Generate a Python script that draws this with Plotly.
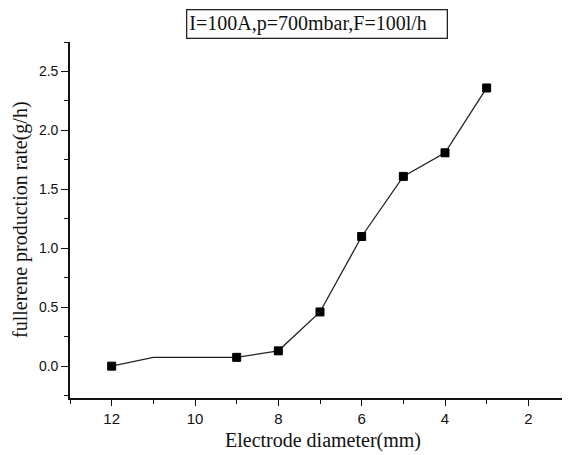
import plotly.graph_objects as go

diameter_mm = [12, 11, 9, 8, 7, 6, 5, 4, 3]
production_rate = [0.0, 0.075, 0.075, 0.13, 0.46, 1.10, 1.61, 1.81, 2.36]
has_marker = [True, False, True, True, True, True, True, True, True]

x_ticks = [12, 10, 8, 6, 4, 2]
y_ticks = [0.0, 0.5, 1.0, 1.5, 2.0, 2.5]
title_text = "I=100A,p=700mbar,F=100l/h"
x_title = "Electrode diameter(mm)"
y_title = "fullerene production rate(g/h)"

fig = go.Figure()
fig.add_trace(go.Scatter(
    x=diameter_mm, y=production_rate, mode="lines+markers",
    line=dict(color="#222222", width=1.3),
    marker=dict(symbol="square", color="black", opacity=1,
                line=dict(width=1, color="black"),
                size=[8 if m else 0 for m in has_marker]),
    showlegend=False,
))

serif = "Liberation Serif, Times New Roman, serif"
sans = "Liberation Sans, Arial, sans-serif"

# page body has an 8px margin; figure is sized so the plot area lands where the reference has it
fig.update_layout(
    width=562, height=447,
    margin=dict(l=62, r=0, t=34, b=57),
    paper_bgcolor="white", plot_bgcolor="white",
    annotations=[
        dict(text=title_text, xref="paper", yref="paper",
             x=0.494, y=1.05, xanchor="center", yanchor="middle",
             showarrow=False, font=dict(family=serif, size=20, color="#111"),
             bordercolor="#222", borderwidth=1.3, borderpad=2, bgcolor="white",
             width=255, align="left"),
        dict(text=x_title, xref="paper", yref="paper",
             x=0.506, y=-0.118, xanchor="center", yanchor="middle",
             showarrow=False, font=dict(family=serif, size=20, color="#111")),
        dict(text=y_title, xref="paper", yref="paper",
             x=-0.1, y=0.5, xanchor="center", yanchor="middle", textangle=-90,
             showarrow=False, font=dict(family=serif, size=20, color="#111")),
    ],
)
fig.update_xaxes(
    range=[13, 1], tickvals=x_ticks, ticktext=[str(v) for v in x_ticks],
    showgrid=False, zeroline=False, showline=True, linecolor="#111", linewidth=1.6,
    ticks="outside", ticklen=6, tickcolor="#111", tickwidth=1.3,
    minor=dict(dtick=1, tick0=0, ticks="outside", ticklen=4, tickcolor="#111", tickwidth=1.2),
    tickfont=dict(family=sans, size=15, color="#111"), automargin=False,
)
fig.update_yaxes(
    range=[-0.27, 2.75], tickvals=y_ticks, ticktext=["%.1f" % v for v in y_ticks],
    showgrid=False, zeroline=False, showline=True, linecolor="#111", linewidth=1.6,
    ticks="outside", ticklen=7, tickcolor="#111", tickwidth=1.3,
    minor=dict(dtick=0.25, tick0=0, ticks="outside", ticklen=4, tickcolor="#111", tickwidth=1.2),
    tickfont=dict(family=sans, size=14, color="#111"), automargin=False,
)

fig.write_html("out.html")
